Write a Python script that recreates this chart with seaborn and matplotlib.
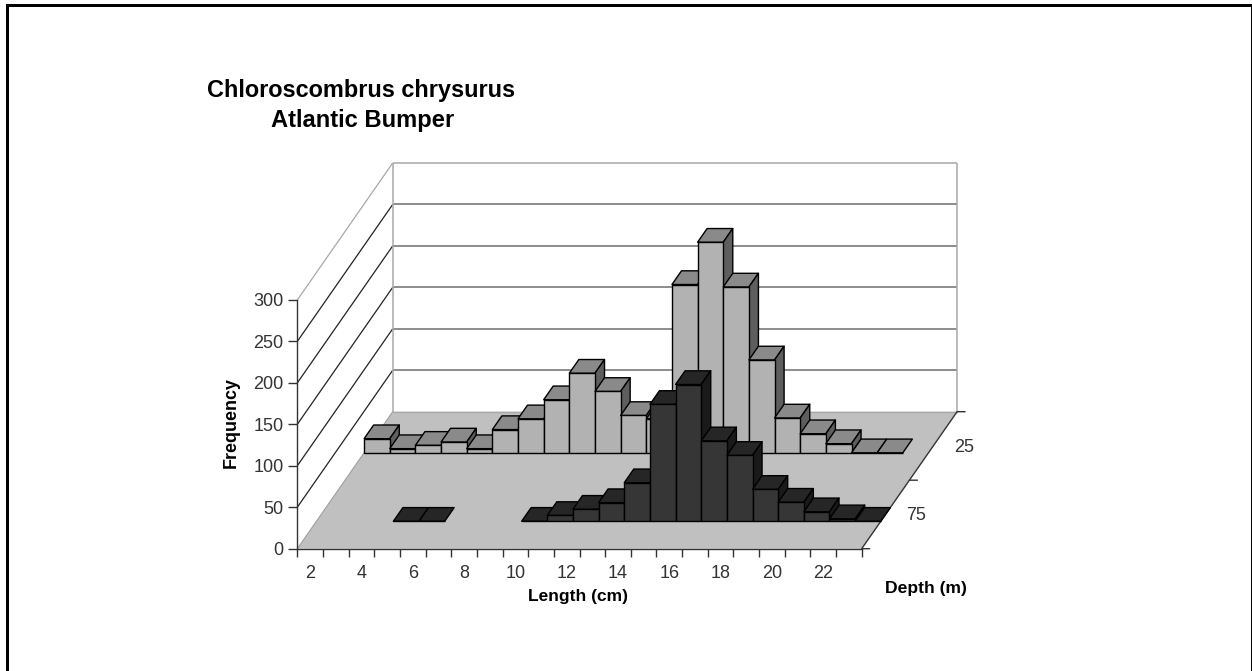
import numpy as np
import pandas as pd
import matplotlib
matplotlib.use("Agg")
import matplotlib.pyplot as plt
from matplotlib.patches import Polygon, Rectangle
from matplotlib.transforms import Affine2D
import seaborn as sns

lengths = list(range(2, 24))
freq_25 = [17, 5, 9, 13, 5, 28, 41, 64, 96, 74, 45, 41, 203, 254, 200, 112, 42, 23, 11, 0, 0, np.nan]
freq_75 = [np.nan, np.nan, np.nan, 0, 0, np.nan, np.nan, np.nan, 0, 7, 14.5, 22.5, 46.5, 141, 165, 97, 79.5, 38.5, 23, 11.5, 3, 0]
freq_ticks = [0, 50, 100, 150, 200, 250, 300]
title_lines = ["Chloroscombrus chrysurus", "Atlantic Bumper"]

W, H = 1252, 671
sns.set_theme(style="white")
plt.rcParams["font.family"] = ["Liberation Sans", "DejaVu Sans"]
fig = plt.figure(figsize=(W / 100, H / 100), dpi=100, facecolor="white")

# front plane of the oblique box
L, R, B, T = 297.3, 861.7, 548.7, 300.0
ax = fig.add_axes([L / W, 1 - B / H, (R - L) / W, (B - T) / H])
ax.set_facecolor("none")
XMIN, XMAX = -0.5, 21.5
YMAX = 300
# full depth of the box, in data units
DX = 95.4 / ((R - L) / 22)
DY = 137.0 / ((B - T) / YMAX)
BAR_DEPTH = 0.1


def proj(x, v, d):
    return x + d * DX, v + d * DY


def line(p, q, **kw):
    kw.setdefault("solid_capstyle", "butt")
    ax.plot([p[0], q[0]], [p[1], q[1]], clip_on=False, **kw)


def poly(points, zorder, **kw):
    ax.add_patch(Polygon(points, closed=True, clip_on=False, zorder=zorder, **kw))


# floor
poly([proj(XMIN, 0, 0), proj(XMAX, 0, 0), proj(XMAX, 0, 1), proj(XMIN, 0, 1)], 1,
     facecolor="#c0c0c0", edgecolor="none")

# walls
GRID = "#6e6e6e"
LIGHT = "#a8a8a8"
for v in freq_ticks[1:]:
    c_back = LIGHT if v == YMAX else GRID
    line(proj(XMIN, v, 1), proj(XMAX, v, 1), color=c_back, lw=1.1, zorder=2)
    line(proj(XMIN, v, 0), proj(XMIN, v, 1), color=LIGHT if v == YMAX else "#222222", lw=0.9, zorder=2)
line(proj(XMIN, 0, 1), proj(XMIN, YMAX, 1), color=LIGHT, lw=1.1, zorder=2)
line(proj(XMAX, 0, 1), proj(XMAX, YMAX, 1), color=LIGHT, lw=1.1, zorder=2)
line(proj(XMIN, 0, 1), proj(XMAX, 0, 1), color=LIGHT, lw=1.0, zorder=2)
line(proj(XMIN, 0, 0), proj(XMIN, 0, 1), color="#a0a0a0", lw=0.8, zorder=2)

# depth axis
line(proj(XMAX, 0, 0), proj(XMAX, 0, 1), color="#333333", lw=1.0, zorder=3)
for d in (0, 0.5, 1):
    ax.annotate("", xy=proj(XMAX, 0, d), xytext=(8, 0), textcoords="offset pixels",
                arrowprops=dict(arrowstyle="-", color="#333333", lw=1.0, shrinkA=0, shrinkB=0),
                annotation_clip=False, zorder=3)

rows = [
    (0.75 - BAR_DEPTH / 2, freq_25, "#b2b2b2", "#8a8a8a", "#5e5e5e", 10),
    (0.25 - BAR_DEPTH / 2, freq_75, "#363636", "#262626", "#1a1a1a", 100),
]
for depth, values, c_front, c_top, c_side, base_z in rows:
    df = pd.DataFrame({"Length": lengths, "Frequency": values}).dropna()
    before = len(ax.patches)
    sns.barplot(data=df, x="Length", y="Frequency", order=lengths, color=c_front, saturation=1,
                width=1, edgecolor="black", linewidth=1.0, ax=ax, legend=False)
    new = [p for p in ax.patches[before:] if isinstance(p, Rectangle)]
    shift = Affine2D().translate(depth * DX, depth * DY)
    for p in new:
        x0, x1, v = p.get_x(), p.get_x() + p.get_width(), p.get_height()
        i = int(round(x0 - XMIN))
        p.set_transform(shift + ax.transData)
        p.set_clip_on(False)
        p.set_zorder(base_z + 2 * i + 1)
        top = [proj(x0, v, depth), proj(x1, v, depth), proj(x1, v, depth + BAR_DEPTH), proj(x0, v, depth + BAR_DEPTH)]
        poly(top, base_z + 2 * i, facecolor=c_top, edgecolor="black", linewidth=1.0, joinstyle="round")
        if v > 0:
            side = [proj(x1, 0, depth), proj(x1, v, depth), proj(x1, v, depth + BAR_DEPTH), proj(x1, 0, depth + BAR_DEPTH)]
            poly(side, base_z + 2 * i, facecolor=c_side, edgecolor="black", linewidth=1.0, joinstyle="round")

ax.set_xlim(XMIN, XMAX)
ax.set_ylim(0, YMAX)
ax.set_xlabel("")
ax.set_ylabel("")
for s in ("top", "right"):
    ax.spines[s].set_visible(False)
for s in ("left", "bottom"):
    ax.spines[s].set_color("#333333")
    ax.spines[s].set_linewidth(1.0)
    ax.spines[s].set_zorder(5)

TICK_COLOR = "#333333"
ax.set_yticks(freq_ticks)
ax.set_yticklabels([str(v) for v in freq_ticks])
ax.tick_params(axis="y", left=True, length=6.4, width=1.0, color=TICK_COLOR, labelsize=13,
               labelcolor=TICK_COLOR, pad=3.5)
ax.set_xticks(np.arange(0, 22, 2))
ax.set_xticklabels([str(v) for v in lengths[::2]])
ax.set_xticks(np.arange(XMIN, XMAX + 0.5, 1), minor=True)
ax.tick_params(axis="x", which="major", bottom=False, length=0, labelsize=13, labelcolor=TICK_COLOR, pad=12)
ax.tick_params(axis="x", which="minor", bottom=True, length=5.8, width=1.0, color=TICK_COLOR)

# depth labels
for label, d in (("25", 0.75), ("75", 0.25)):
    ax.annotate(label, xy=proj(XMAX, 0, d), xytext=(31, -1.5), textcoords="offset pixels",
                ha="center", va="center", fontsize=13, color=TICK_COLOR, annotation_clip=False)


def px_text(x, y, s, **kw):
    fig.text(x / W, 1 - y / H, s, ha="center", va="center", color="black", fontweight="bold", **kw)


px_text(361.5, 91, title_lines[0], fontsize=16.9)
px_text(363, 121, title_lines[1], fontsize=17.1)
px_text(578, 597, "Length (cm)", fontsize=12.5)
px_text(926, 589, "Depth (m)", fontsize=12.6)
px_text(231, 423, "Frequency", fontsize=12.9, rotation=90)

# outer frame (open at the bottom)
fig.add_artist(Rectangle((6, 0), 3, H - 4, facecolor="black", edgecolor="none", transform=None))
fig.add_artist(Rectangle((6, H - 7), W - 6, 3, facecolor="black", edgecolor="none", transform=None))
fig.add_artist(Rectangle((W - 1.5, 0), 1.5, H - 4, facecolor="black", edgecolor="none", transform=None))

fig.savefig("out.png", dpi=100, facecolor="white")
